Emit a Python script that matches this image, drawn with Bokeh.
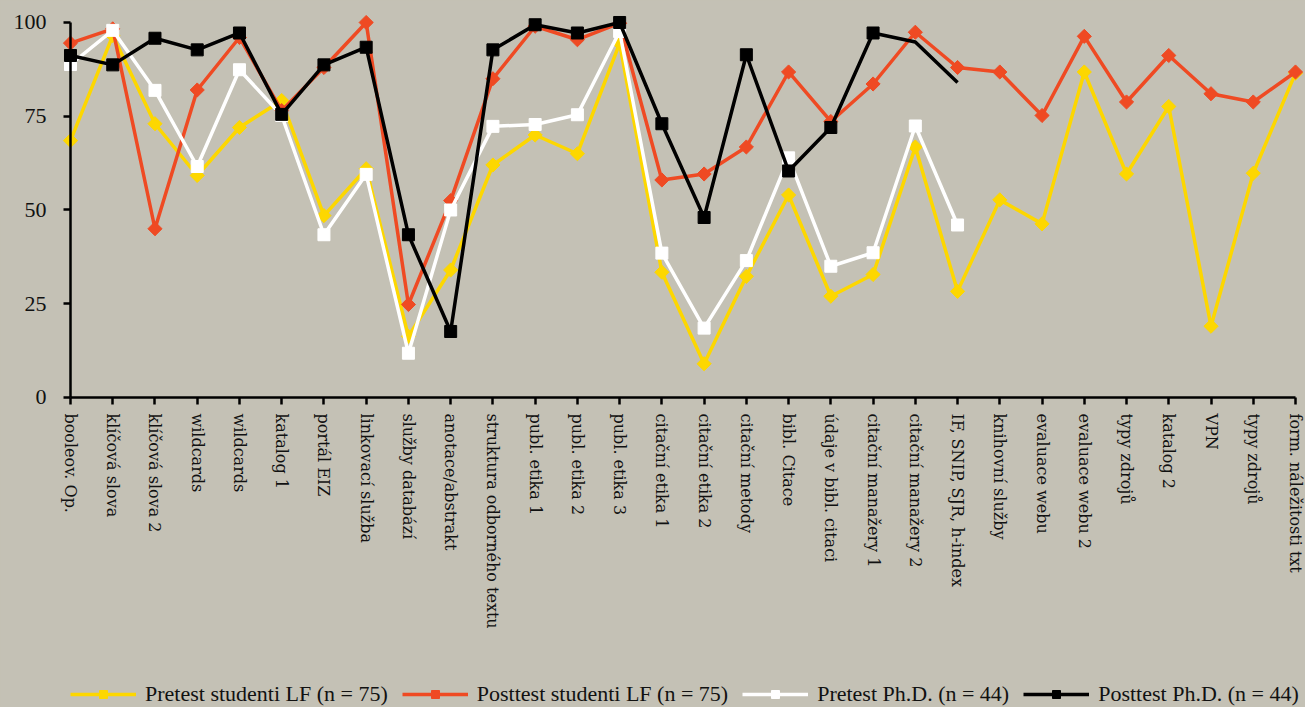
from bokeh.plotting import figure
from bokeh.models import Range1d, FixedTicker, Legend, LegendItem
from bokeh.embed import file_html
from bokeh.resources import INLINE

categories = [
    "booleov. Op.", "klíčová slova", "klíčová slova 2", "wildcards", "wildcards",
    "katalog 1", "portál EIZ", "linkovací služba", "služby databází", "anotace/abstrakt",
    "struktura odborného textu", "publ. etika 1", "publ. etika 2", "publ. etika 3",
    "citační etika 1", "citační etika 2", "citační metody", "bibl. Citace",
    "údaje v bibl. citaci", "citační manažery 1", "citační manažery 2",
    "IF, SNIP, SJR, h-index", "knihovní služby", "evaluace webu", "evaluace webu 2",
    "typy zdrojů", "katalog 2", "VPN", "typy zdrojů", "form. náležitosti txt",
]
y_ticks = [0, 25, 50, 75, 100]

pretest_lf = [68.5, 96.5, 73, 59.2, 72, 79.2, 48.5, 61, 16.3, 34, 62, 70, 65, 94.4,
              33.4, 9, 32.3, 54, 27, 32.8, 66.8, 28.3, 52.7, 46.3, 86.8, 59.6, 77.6,
              19, 59.8, 86.5]
posttest_lf = [94.5, 98.3, 45, 82, 96, 76.5, 88, 100, 24.8, 52.5, 85, 99, 95.4, 99.8,
               58, 59.6, 66.8, 86.8, 73.6, 83.6, 97.4, 88, 86.8, 75.2, 96.3, 78.8, 91.2,
               81, 78.8, 86.8]
pretest_phd = [88.8, 97.9, 81.9, 61.6, 87.4, 75.2, 43.4, 59.5, 11.8, 50, 72.3, 72.8,
               75.4, 97.6, 38.5, 18.5, 36.5, 63.9, 35, 38.6, 72.4, 46]
posttest_phd = [91.2, 88.7, 95.8, 92.7, 97.2, 75.5, 88.7, 93.4, 43.4, 17.6, 92.7, 99.4,
                97.2, 100, 73, 48, 91.4, 60.4, 72, 97.2, 94.8, 84]
posttest_phd_marked = 20  # markers shown only on the first 20 points

series_names = [
    "Pretest studenti LF (n = 75)",
    "Posttest studenti LF (n = 75)",
    "Pretest Ph.D. (n = 44)",
    "Posttest Ph.D. (n = 44)",
]

BG = "#c4c1b5"
FONT = "'Liberation Serif'"
LABEL_FONT = "'DejaVu Serif'"
YELLOW = "#FDD700"
RED = "#EF4A23"

n = len(categories)
xs = list(range(n))

# The frame covers the whole page; both axes are pinned at the data origin
p = figure(
    frame_width=1299, frame_height=696,
    x_range=Range1d(-1.515, n - 1 + 0.237), y_range=Range1d(-82.67, 102.93),
    output_backend="svg", toolbar_location=None,
    background_fill_color=BG, border_fill_color=BG,
    min_border_left=6, min_border_right=0, min_border_top=11, min_border_bottom=0,
    outline_line_color=None,
)
p.grid.visible = False

# axes
p.yaxis.fixed_location = 0
p.xaxis.fixed_location = 0
p.yaxis.bounds = (0, 100)
p.yaxis.ticker = FixedTicker(ticks=y_ticks)
p.xaxis.bounds = (0, n - 1)
p.xaxis.ticker = FixedTicker(ticks=xs)
p.xaxis.major_label_overrides = {i: c for i, c in enumerate(categories)}
p.xaxis.major_label_orientation = "vertical"
for ax in (p.xaxis, p.yaxis):
    ax.axis_line_color = "black"
    ax.axis_line_width = 2.5
    ax.major_tick_line_color = "black"
    ax.major_tick_line_width = 2.5
    ax.major_tick_out = 7
    ax.major_tick_in = 0
    ax.minor_tick_line_color = None
    ax.major_label_text_color = "#111111"
p.yaxis.major_label_text_font = FONT
p.yaxis.major_label_text_font_size = "22px"
p.yaxis.major_label_standoff = 17
p.xaxis.major_label_text_font = LABEL_FONT
p.xaxis.major_label_text_font_size = "16px"
p.xaxis.major_label_standoff = 9

items = []

l1 = p.line(xs, pretest_lf, line_color=YELLOW, line_width=3.5)
m1 = p.scatter(xs, pretest_lf, marker="square", angle=0.785398, size=10,
               fill_color=YELLOW, line_color=YELLOW)
items.append(LegendItem(label=series_names[0], renderers=[l1, m1]))

l2 = p.line(xs, posttest_lf, line_color=RED, line_width=3.5)
m2 = p.scatter(xs, posttest_lf, marker="square", angle=0.785398, size=10,
               fill_color=RED, line_color=RED)
items.append(LegendItem(label=series_names[1], renderers=[l2, m2]))

x_phd = xs[:len(pretest_phd)]
l3 = p.line(x_phd, pretest_phd, line_color="white", line_width=3.5)
m3 = p.scatter(x_phd, pretest_phd, marker="square", size=12,
               fill_color="white", line_color="white")
items.append(LegendItem(label=series_names[2], renderers=[l3, m3]))

l4 = p.line(x_phd, posttest_phd, line_color="black", line_width=3.5)
m4 = p.scatter(x_phd[:posttest_phd_marked], posttest_phd[:posttest_phd_marked],
               marker="square", size=12, fill_color="black", line_color="black")
items.append(LegendItem(label=series_names[3], renderers=[l4, m4]))

legend = Legend(items=items, orientation="horizontal", location=(64, 0),
                background_fill_alpha=0, border_line_color=None,
                glyph_width=66, glyph_height=20, label_standoff=9, spacing=14,
                padding=3, margin=0,
                label_text_font=FONT, label_text_font_size="22px",
                label_text_color="#111111")
p.add_layout(legend, "center")

html = file_html(p, INLINE)
html = html.replace("</head>", "<style>html,body{background:%s;}</style></head>" % BG, 1)
open("out.html", "w").write(html)
